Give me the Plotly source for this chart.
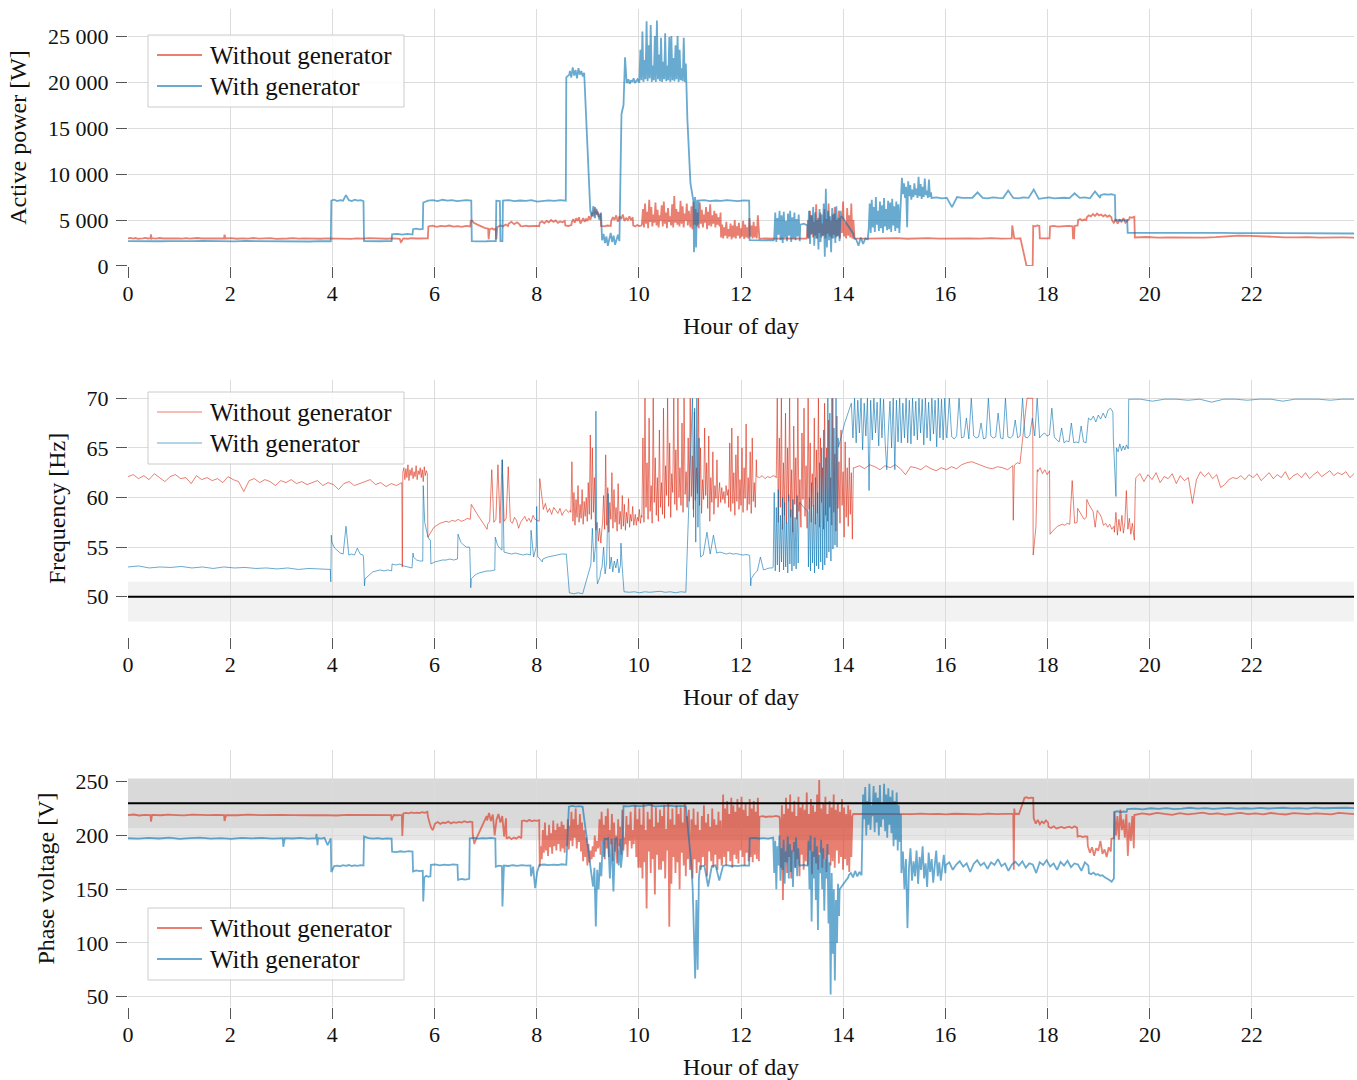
import plotly.graph_objects as go

# ---------------------------------------------------------------------------
# Measured series. Each series is a list of runs (start_hour, end_hour, values);
# the values of a run are placed at evenly spaced times between its two hours.
# ---------------------------------------------------------------------------

power_without = [
    (0.00, 0.44, [3000, 3060, 2980, 3040, 2960, 3020, 3000, 3050, 2990, 3030]),
    (0.45, 0.46, [3450, 2980]),
    (0.47, 1.88, [3020, 2970, 3040, 2990, 3010, 2960, 3050, 3000, 2980, 3030, 2970, 3010, 3040, 2990, 3000, 2960, 3020, 3050, 2980, 3000]),
    (1.89, 1.90, [3400, 3000]),
    (1.91, 4.00, [2990, 3030, 2960, 3010, 2980, 3040, 2970, 3000, 3020, 2950, 3010, 2990, 3030, 2970, 3000, 2980, 3020, 2960, 3010, 2990]),
    (4.01, 5.30, [2980, 3030, 2990, 2950, 3010, 2970, 3020, 2990, 3000, 2960, 3010, 2980]),
    (5.32, 5.38, [2950, 2600, 2700, 2950]),
    (5.40, 5.87, [3000, 2960, 3020, 2990, 3010, 2970, 3000]),
    (5.88, 6.70, [4300, 4380, 4250, 4350, 4300, 4400, 4280, 4330, 4260, 4350, 4300]),
    (6.71, 6.76, [4900, 4950, 4800]),
    (6.77, 7.05, [4700, 4500, 4300, 4150, 4050]),
    (7.06, 7.08, [2900, 4000]),
    (7.09, 7.20, [4000, 4100, 3950, 4050]),
    (7.21, 7.23, [2900, 4300]),
    (7.24, 7.44, [4250, 4400, 4300, 4500, 4350]),
    (7.45, 7.67, [4600, 4800, 4550, 4750, 4500]),
    (7.68, 8.05, [4350, 4300, 4380, 4320, 4350, 4300, 4370, 4330]),
    (8.06, 8.55, [4700, 4850, 4650, 4900, 4750, 5000, 4800, 4950, 4700, 4850, 4750, 4900]),
    (8.56, 8.68, [4400, 4350, 4450]),
    (8.69, 9.05, [4800, 5100, 4700, 5200, 4900, 5300, 4600, 5000, 5200, 4800, 5100, 4900, 5400, 5000]),
    (9.06, 9.25, [5200, 5800, 5400, 6400, 5600, 5900, 5300, 5700]),
    (9.26, 9.45, [4350, 4300, 4400, 4350]),
    (9.46, 9.88, [4900, 5300, 5000, 5500, 4800, 5400, 5100, 5600, 4900, 5200, 5000, 5400, 4950, 5300]),
    (9.89, 10.05, [4400, 4300, 4450, 4350, 4400]),
    (10.06, 11.00, [4500, 6200, 4200, 6800, 4600, 5900, 4100, 7200, 4800, 6400, 4300, 5600, 4700, 6900, 4400, 6100,
                    4200, 5500, 4900, 6600, 4300, 7000, 4600, 5800, 4100, 6300, 4800, 5400, 4400, 6700, 4200, 7600,
                    4700, 6200, 4500, 5900, 4300, 7100, 4600, 6500, 4200, 5700, 4900, 6800, 4400, 6000, 4500]),
    (11.01, 11.60, [4200, 6500, 4000, 7000, 4500, 6200, 4300, 5800, 4100, 6900, 4600, 6100, 4200, 5600, 4700, 6400,
                    4000, 5900, 4400, 6700, 4300, 5500, 4600, 6000, 4200, 5700, 4500, 5300, 4300, 5800]),
    (11.61, 12.35, [3100, 4500, 3000, 4200, 3300, 4800, 3000, 4000, 3200, 4600, 2900, 4400, 3100, 5000, 3000, 4300,
                    3300, 4700, 3000, 4100, 3200, 4900, 2950, 4500, 3100, 4200, 3000, 5200, 3200, 4400, 3000, 4800,
                    3100, 4300, 3000, 5500, 3200]),
    (12.36, 13.28, [2950, 3000, 2980, 3020, 2970, 3000, 2990, 3010, 2960, 3000, 2980]),
    (13.29, 14.22, [3200, 5000, 3000, 6000, 3400, 5500, 3100, 4800, 3300, 6700, 3000, 5200, 3600, 5800, 3100, 4600,
                    3300, 6200, 3000, 5100, 3500, 6800, 3200, 4900, 3000, 5600, 3400, 6400, 3100, 5000, 3300, 6000,
                    3000, 5400, 3600, 7000, 3200, 4700, 3000, 6300, 3300, 5500, 3100, 6800, 3000, 5000, 3200]),
    (14.23, 17.30, [3000, 2970, 3010, 2990, 3020, 2960, 3000, 3030, 2980, 3000, 2990, 3010, 2970, 3020, 2980, 3000]),
    (17.31, 17.34, [4400, 3000]),
    (17.35, 17.47, [3000, 2980, 3010]),
    (17.59, 17.71, [0, 20, 0, 0]),
    (17.72, 17.84, [4350, 4300, 4400, 4350]),
    (17.85, 18.04, [3000, 2980, 3020, 3000]),
    (18.05, 18.49, [4300, 4350, 4280, 4330, 4300, 4360, 4310]),
    (18.50, 18.52, [3000, 3000]),
    (18.53, 18.59, [4350, 4400]),
    (18.60, 18.76, [5000, 5100, 4950, 5050, 5000]),
    (18.77, 19.25, [5300, 5500, 5400, 5650, 5450, 5700, 5500, 5600, 5400, 5550, 5350, 5500, 5300]),
    (19.26, 19.60, [5000, 4700, 5100, 4600, 5000, 4800, 5200, 4700, 4900, 5100]),
    (19.61, 19.70, [5300, 5250, 5350]),
    (19.71, 24.00, [3100, 3150, 3080, 3120, 3100, 3160, 3090, 3130, 3250, 3300, 3280, 3200, 3150, 3120, 3100, 3140,
                    3090, 3120, 3100, 3080]),
]

power_with = [
    (0.00, 3.97, [2700, 2680, 2720, 2690, 2710, 2670, 2700, 2730, 2690, 2700, 2680, 2720, 2700, 2690, 2710, 2680,
                  2700, 2660, 2700, 2690]),
    (3.98, 4.61, [7100, 7200, 7050, 7150, 7100, 7700, 7150, 7050, 7200, 7100, 7150, 7050]),
    (4.62, 5.16, [2700, 2680, 2720, 2690, 2700, 2710]),
    (5.17, 5.57, [3450, 3500, 3400, 3480, 3420]),
    (5.58, 5.77, [4000, 4050, 3980, 4020]),
    (5.78, 6.72, [6900, 7100, 7150, 7050, 7200, 7100, 7150, 7050, 7100, 7150, 7100]),
    (6.73, 7.20, [2700, 2680, 2720, 2690, 2710, 2700]),
    (7.21, 7.28, [7100, 7050]),
    (7.29, 7.33, [2700, 2700]),
    (7.34, 8.57, [7100, 7150, 7050, 7120, 7080, 7150, 7000, 7100, 7130, 7070, 7150, 7100]),
    (8.58, 8.64, [20500, 20800]),
    (8.65, 8.93, [21200, 20500, 21600, 20700, 21300, 20400, 21500, 20800, 21200, 20600, 21000]),
    (9.05, 9.26, [6000, 5400, 6500, 5200, 6200, 5600, 5000, 5800]),
    (9.28, 9.62, [2800, 3500, 2500, 3200, 2200, 2900, 3600, 2600, 3300, 2300, 2800, 3400, 2700]),
    (9.66, 9.70, [16500, 17500]),
    (9.73, 9.76, [22700, 20000]),
    (9.77, 10.00, [19900, 20300, 19800, 20200, 20000, 20400, 19900, 20100, 20300, 20000]),
    (10.01, 10.92, [20000, 23500, 20200, 25500, 20000, 22400, 20300, 26600, 20100, 24000, 20400, 26200, 20000, 21800,
                    20200, 25000, 20000, 26700, 20300, 23000, 20100, 24800, 20000, 22200, 20300, 25300, 20100, 21800,
                    20200, 24900, 20000, 25000, 20200, 22600, 20100, 24000, 20300, 25000, 20000, 23500, 20200, 21500,
                    20100, 24800, 20000, 22000]),
    (10.95, 11.07, [16000, 9000, 7000]),
    (11.08, 11.16, [1500, 7500, 2000, 7200, 4500]),
    (11.17, 12.16, [7100, 7150, 7050, 7120, 7080, 7150, 7100, 7050, 7130, 7100]),
    (12.17, 12.64, [2800, 2780, 2820, 2790, 2810, 2800]),
    (12.65, 13.15, [3000, 5800, 2600, 5200, 3400, 6000, 2800, 5500, 2500, 5900, 3100, 4900, 2700, 5700, 3300, 6000,
                    2600, 5300, 3000, 5800, 2800, 5100, 3200, 5600, 2700]),
    (13.16, 13.30, [4500, 4600, 4400]),
    (13.31, 13.95, [3000, 6000, 2400, 5500, 3500, 6400, 2200, 5800, 3000, 5000, 1800, 6200, 2600, 5600, 3300, 6800,
                    1000, 8400, 2000, 6000, 2800, 5400, 1500, 6300, 3000, 5700, 2500, 6500, 3200, 5200, 2700, 6000]),
    (13.96, 14.20, [5500, 4500, 3500]),
    (14.21, 14.48, [3000, 2900, 2200, 3100, 2400, 3000, 2900]),
    (14.50, 15.12, [4000, 6800, 3600, 7200, 4200, 6400, 3700, 7500, 4500, 6000, 3800, 7000, 4100, 6600, 3600, 7400,
                    4300, 6200, 3900, 7100, 4000, 6900, 3700, 7300, 4400, 6500, 3800, 7000, 4100, 6700, 3600, 6000]),
    (15.13, 15.72, [7500, 9600, 7800, 9000, 7400, 8600, 4200, 9200, 7600, 8800, 7200, 8300, 7500, 9000, 7700, 8400,
                    7400, 9700, 7600, 8900, 7300, 8600, 7500, 9500, 7700, 8200, 7400, 9400, 7500, 8000]),
    (15.73, 19.03, [7400, 7450, 7350, 7400, 6400, 7500, 7400, 7380, 7420, 8000, 7400, 7350, 7450, 7400, 7380, 8200,
                    7400, 7350, 7450, 7400, 8300, 7300, 7400, 7450, 7350, 7400, 7420, 7380, 7900, 7400, 7450, 7350,
                    8100, 7400]),
    (19.04, 19.32, [7700, 7800, 7750, 7800, 7700]),
    (19.33, 19.56, [4950, 5000, 4950, 5000]),
    (19.57, 24.00, [3600, 3620, 3580, 3610, 3600, 3590, 3620, 3600, 3610, 3580, 3600, 3590, 3570, 3580, 3560, 3550,
                    3560, 3540, 3550, 3530]),
]

freq_without = [
    (0.00, 5.36, [62.1, 62.3, 61.9, 62.2, 61.8, 62.4, 62.0, 61.6, 62.1, 62.3, 61.9, 62.0, 61.4, 62.2, 61.8, 62.0,
                  61.7, 61.9, 61.5, 62.1, 61.8, 61.6, 60.6, 61.7, 61.9, 61.5, 61.8, 61.6, 61.2, 61.7, 61.5, 61.8,
                  61.4, 61.6, 61.3, 61.5, 61.7, 61.2, 61.5, 61.3, 60.8, 61.4, 61.6, 61.2, 61.4, 61.6, 61.8, 61.3,
                  61.5, 61.1, 61.4, 61.2, 61.5]),
    (5.37, 5.375, [53.0, 62.5]),
    (5.38, 5.86, [62.5, 63.0, 61.8, 62.9, 62.0, 63.3, 61.7, 62.8, 62.2, 63.0, 61.9, 62.6, 62.1, 63.2, 61.8, 62.7,
                  62.3, 63.0, 62.0, 62.8, 61.6, 63.1, 62.2, 62.7, 62.4]),
    (5.87, 6.70, [56.0, 56.5, 57.0, 57.2, 57.4, 57.5, 57.6, 57.5, 57.7, 57.6, 57.8, 57.6, 57.7, 57.9, 57.8]),
    (6.72, 7.03, [59.3, 58.6, 58.0, 57.4, 56.8]),
    (7.04, 8.05, [57.3, 57.6, 62.8, 57.5, 57.8, 63.3, 57.4, 63.8, 57.6, 57.9, 63.1, 57.6, 57.4, 58.0, 57.7, 56.9,
                  57.5, 57.8, 58.1, 57.6, 57.9, 57.5, 58.2, 57.8, 57.7, 57.6]),
    (8.06, 8.12, [61.9, 60.2, 59.3]),
    (8.13, 8.66, [58.8, 59.4, 58.5, 58.9, 58.3, 59.0, 58.7, 58.4, 58.9, 58.2, 58.6, 58.8, 58.5, 58.7]),
    (8.67, 9.15, [58.5, 63.6, 57.6, 60.5, 57.2, 59.8, 58.0, 61.2, 57.5, 59.3, 57.9, 60.8, 57.3, 59.6, 58.1, 60.0,
                  57.6, 61.5, 58.3, 66.3, 57.8, 65.0, 58.5, 62.0, 57.2]),
    (9.16, 9.28, [56.7, 57.5, 55.6, 56.9, 55.4, 57.0]),
    (9.29, 9.90, [57.4, 60.2, 56.8, 64.3, 57.2, 61.0, 56.5, 59.5, 57.8, 62.5, 56.9, 60.8, 57.5, 59.0, 56.6, 61.4,
                  57.3, 58.6, 56.8, 60.2, 57.1, 59.3, 56.7, 58.5, 57.4, 59.9, 57.0, 58.3, 57.6, 59.1, 57.2]),
    (9.91, 10.05, [57.5, 58.3, 57.2, 58.0, 57.6, 58.8, 57.4, 58.2]),
    (10.06, 11.55, [58.0, 66.0, 57.5, 70.0, 59.0, 63.5, 57.8, 68.0, 58.6, 61.2, 57.4, 70.0, 59.5, 64.0, 58.2, 62.0,
                    57.6, 66.8, 59.0, 61.5, 58.3, 69.0, 57.9, 63.2, 60.2, 70.0, 59.1, 65.5, 58.0, 62.4, 60.5, 70.0,
                    59.3, 64.8, 58.7, 70.0, 60.0, 63.0, 59.2, 67.5, 58.5, 70.0, 60.3, 62.6, 59.0, 66.0, 59.6, 70.0,
                    60.1, 64.2, 58.8, 68.6, 59.7, 63.0, 60.4, 70.0, 59.2, 65.0, 58.4, 61.8, 59.8, 67.0, 60.2, 63.5,
                    58.9, 66.2, 57.6, 62.0, 59.5, 64.6, 58.3, 61.2, 59.9, 63.8, 59.0]),
    (11.56, 11.75, [60.0, 61.5, 59.5, 61.0, 59.8, 60.6, 59.4, 61.2, 60.2, 60.8]),
    (11.76, 12.30, [59.0, 65.5, 58.6, 67.0, 59.4, 62.5, 58.2, 64.3, 59.6, 66.2, 58.8, 61.8, 59.2, 65.0, 58.5, 63.0,
                    59.9, 67.4, 58.7, 62.0, 59.3, 64.6, 58.4, 66.0, 59.6, 61.5, 59.0, 63.8]),
    (12.31, 12.68, [62.1, 62.0, 62.2, 61.9, 62.1, 62.0, 62.2, 62.1]),
    (12.69, 14.20, [62.0, 70.0, 57.5, 66.0, 59.0, 70.0, 56.8, 63.5, 58.2, 68.5, 57.4, 65.0, 59.6, 70.0, 58.0, 62.8,
                    56.5, 67.2, 59.3, 64.0, 57.8, 70.0, 58.6, 61.8, 57.0, 66.5, 59.8, 69.0, 58.1, 63.2, 56.9, 70.0,
                    58.8, 65.5, 57.5, 62.4, 59.1, 68.0, 57.3, 64.8, 58.4, 70.0, 57.0, 66.0, 59.5, 63.0, 56.8, 69.5,
                    58.2, 65.0, 57.6, 67.8, 59.0, 62.0, 57.2, 70.0, 58.5, 64.4, 56.6, 68.2, 58.9, 63.6, 57.4, 66.8,
                    59.2, 62.6, 56.0, 65.6, 58.0, 63.0, 57.1, 64.0, 58.3, 62.5, 55.8, 63.0]),
    (14.22, 17.32, [63.0, 63.2, 62.9, 63.3, 63.1, 62.8, 63.2, 63.0, 63.3, 62.9, 62.3, 63.1, 63.0, 62.8, 63.2, 62.9,
                    62.7, 63.0, 62.8, 63.1, 62.9, 63.3, 63.5, 63.6, 63.4, 63.2, 63.0, 62.9, 63.1, 63.0, 62.8, 63.2]),
    (17.33, 17.35, [57.7, 63.2]),
    (17.36, 17.46, [63.3, 63.5, 63.4]),
    (17.60, 17.71, [70.0, 70.0]),
    (17.72, 17.80, [54.2, 55.5, 57.0, 62.8]),
    (17.81, 18.04, [62.6, 63.0, 62.4, 62.8, 62.3, 62.7]),
    (18.05, 18.58, [56.3, 56.6, 56.9, 57.1, 57.2, 57.3, 57.2, 57.4, 57.3, 61.7, 57.4, 57.5]),
    (18.59, 18.76, [58.9, 58.5, 58.2, 57.8, 58.0]),
    (18.77, 19.30, [59.8, 59.3, 58.9, 58.6, 57.0, 58.7, 58.4, 58.0, 57.2, 57.4, 57.0, 57.3, 56.8, 57.1]),
    (19.31, 19.69, [56.5, 58.5, 56.2, 57.8, 56.6, 58.2, 56.4, 57.5, 60.7, 56.8, 57.9, 56.3, 57.4, 56.0]),
    (19.70, 19.72, [55.7, 61.3]),
    (19.73, 24.00, [62.0, 62.4, 61.6, 62.3, 61.8, 62.5, 61.5, 62.1, 61.9, 62.4, 61.4, 62.2, 61.7, 62.0, 59.4, 61.8,
                    62.6, 62.1, 62.5, 61.9, 62.3, 61.0, 61.3, 61.8, 62.0, 61.9, 62.2, 61.8, 62.3, 62.0, 62.4, 61.7,
                    62.1, 62.5, 61.9, 62.3, 62.0, 62.6, 61.8, 62.2, 62.4, 62.0, 62.5, 61.9, 62.3, 62.6, 62.1, 62.4,
                    62.7, 62.2, 62.5, 62.3, 62.6, 62.0, 62.4]),
]

freq_with = [
    (0.00, 3.96, [53.0, 53.1, 52.9, 53.0, 52.95, 53.05, 52.9, 53.0, 52.85, 53.0, 52.9, 52.95, 52.85, 52.9, 52.8,
                  52.9, 52.75, 52.85, 52.8, 52.75]),
    (3.97, 3.98, [51.5, 56.2]),
    (3.99, 4.60, [55.5, 54.9, 54.6, 54.4, 54.3, 57.1, 54.2, 54.3, 54.2, 54.9, 54.3, 54.2]),
    (4.61, 4.63, [54.0, 51.1]),
    (4.64, 5.16, [51.8, 52.2, 52.5, 52.6, 52.7, 52.6, 52.7, 52.6]),
    (5.17, 5.55, [53.3, 53.2, 53.3, 53.1, 53.0, 52.9]),
    (5.56, 5.58, [52.9, 54.4]),
    (5.59, 5.77, [54.0, 53.7, 53.6, 53.6]),
    (5.78, 5.92, [61.2, 57.5, 56.7, 56.2, 55.8, 55.7]),
    (5.93, 6.45, [53.3, 53.5, 53.6, 53.7, 53.7, 53.8, 53.7, 53.8]),
    (6.46, 6.68, [56.3, 55.5, 55.2, 55.0, 55.0]),
    (6.69, 6.71, [54.8, 50.9]),
    (6.72, 7.18, [51.8, 52.2, 52.4, 52.5, 52.6, 52.6, 52.7]),
    (7.19, 7.32, [56.0, 55.2, 54.9, 54.7]),
    (7.33, 7.35, [63.8, 54.6]),
    (7.36, 7.88, [54.5, 54.4, 54.3, 54.4, 54.3, 54.2, 54.3, 54.2]),
    (7.89, 7.99, [56.7, 54.0, 55.0]),
    (8.00, 8.02, [59.1, 54.0]),
    (8.03, 8.11, [54.0, 53.5]),
    (8.12, 8.58, [53.8, 54.0, 54.1, 54.2, 54.3, 54.3]),
    (8.64, 8.90, [50.4, 50.3, 50.4, 50.3]),
    (9.06, 9.15, [53.2, 56.9, 53.5, 55.0]),
    (9.16, 9.18, [68.7, 52.0]),
    (9.19, 9.24, [51.3, 52.0]),
    (9.25, 9.64, [52.5, 53.0, 55.0, 52.3, 53.5, 60.4, 52.8, 54.0, 52.5, 53.6, 52.9, 53.8, 52.4, 53.2]),
    (9.65, 9.70, [55.4, 53.0, 50.5]),
    (9.71, 10.92, [50.5, 50.45, 50.5, 50.4, 50.5, 50.45, 50.5, 50.55, 50.45, 50.5, 50.4, 50.5, 50.45]),
    (11.05, 11.20, [70.0, 58.0, 69.0, 55.5, 70.0, 57.0, 66.0, 55.0]),
    (11.21, 11.26, [54.0, 54.2]),
    (11.27, 12.16, [54.5, 56.5, 54.3, 56.2, 54.4, 54.5, 54.4, 54.3, 54.4, 54.3, 54.35, 54.3, 54.2, 54.25, 54.2]),
    (12.17, 12.19, [54.1, 51.1]),
    (12.20, 12.62, [51.8, 52.3, 52.6, 54.0, 52.7, 52.8, 52.9, 52.9]),
    (12.63, 13.14, [53.0, 60.5, 52.6, 59.0, 53.2, 60.8, 52.5, 58.2, 53.5, 60.0, 52.7, 59.5, 53.0, 57.5, 52.4, 60.3,
                    53.3, 58.8, 52.6, 59.8, 53.1, 58.0, 52.8, 60.2, 53.4, 59.2]),
    (13.15, 13.31, [59.5, 59.0, 58.6]),
    (13.32, 13.90, [53.0, 60.0, 52.6, 61.5, 53.4, 59.2, 52.4, 62.0, 53.1, 60.5, 52.8, 63.5, 53.5, 65.0, 52.7, 66.8,
                    53.2, 64.0, 53.9, 70.0, 54.5, 68.5, 53.6, 70.0, 54.8, 67.0, 55.2, 70.0, 55.0, 66.0]),
    (13.91, 14.15, [65.1, 67.5, 69.5]),
    (14.16, 16.02, [69.5, 66.0, 70.0, 65.5, 69.8, 66.5, 70.0, 64.8, 69.5, 66.2, 70.0, 60.7, 69.8, 65.8, 70.0, 66.5,
                    69.6, 65.2, 70.0, 66.0, 69.9, 65.5, 62.8, 66.8, 69.7, 65.0, 70.0, 62.8, 69.8, 65.6, 70.0, 65.5,
                    69.5, 66.0, 70.0, 65.5, 69.8, 65.4, 70.0, 66.2, 69.7, 65.8, 70.0, 66.5, 69.9, 65.3, 70.0, 66.0,
                    69.6, 65.7, 70.0, 66.4, 69.8, 65.1, 70.0, 66.0, 69.9, 65.8, 70.0, 66.2]),
    (16.03, 19.28, [66.0, 70.0, 66.1, 65.9, 66.2, 70.0, 66.0, 66.1, 68.0, 65.9, 70.0, 66.2, 66.0, 66.1, 67.5, 65.9,
                    66.0, 70.0, 66.2, 66.0, 66.1, 68.5, 66.0, 65.9, 70.0, 66.1, 66.0, 66.2, 67.8, 66.0, 66.2, 70.0,
                    66.1, 66.0, 66.3, 68.0, 66.2, 70.0, 66.0, 66.3, 66.5, 66.2, 66.3, 69.0, 66.1, 65.8, 65.6, 67.0,
                    65.5, 65.7, 65.6, 67.5, 65.5, 65.6, 65.5, 67.2, 65.6, 65.5, 68.0, 67.8, 68.2, 67.6, 68.3, 67.9,
                    68.5, 68.0, 68.8, 69.0, 68.6]),
    (19.29, 19.34, [65.8, 60.1]),
    (19.35, 19.58, [65.0, 64.6, 65.4, 64.7, 65.2, 64.8, 65.3, 64.9]),
    (19.59, 24.00, [69.9, 69.9, 69.7, 69.9, 69.9, 69.8, 69.9, 69.6, 69.9, 69.9, 69.8, 69.9, 69.9, 69.7, 69.9, 69.9,
                    69.9, 69.8, 69.9, 69.9]),
]

volt_without = [
    (0.00, 0.44, [219.0, 219.5, 218.6, 219.2, 219.0]),
    (0.45, 0.47, [213.0, 219.0]),
    (0.48, 1.88, [219.2, 218.8, 219.4, 219.0, 218.7, 219.3, 219.0, 218.9, 219.2, 219.0]),
    (1.89, 1.91, [213.5, 219.0]),
    (1.92, 5.15, [219.0, 218.8, 219.3, 219.0, 218.7, 219.1, 218.9, 219.2, 218.8, 219.0, 218.6, 219.1, 218.9, 219.0,
                  218.7, 218.9]),
    (5.16, 5.19, [214.0, 219.0]),
    (5.20, 5.36, [219.0, 218.8, 219.1]),
    (5.37, 5.38, [199.5, 219.0]),
    (5.39, 5.86, [220.5, 221.0, 220.6, 221.4, 220.8, 221.2, 220.9, 221.6, 221.0, 222.0]),
    (5.87, 6.00, [218.0, 212.0, 207.0, 205.0, 210.0]),
    (6.01, 6.74, [211.0, 212.5, 210.8, 212.0, 211.5, 213.0, 211.2, 212.4, 211.8, 212.6, 212.0, 213.2, 212.2, 212.8,
                  212.5]),
    (6.75, 6.78, [200.0, 192.0]),
    (6.79, 7.02, [194.0, 200.0, 206.0, 212.0, 218.0]),
    (7.03, 7.40, [214.0, 221.0, 213.5, 219.5, 200.0, 215.0, 220.0, 212.0, 218.0, 199.0, 216.0]),
    (7.41, 7.70, [197.0, 198.5, 196.5, 198.0, 197.0, 199.0, 197.5]),
    (7.71, 8.05, [213.5, 214.0, 213.0, 214.5, 213.2, 214.0, 213.6, 214.2]),
    (8.06, 8.65, [171.0, 190.0, 178.0, 205.0, 184.0, 212.0, 186.0, 200.0, 181.0, 210.0, 189.0, 202.0, 183.0, 214.0,
                  190.0, 205.0, 186.0, 211.0, 192.0, 208.0, 185.0, 213.0, 188.0, 210.0, 184.0, 206.0, 190.0, 215.0,
                  187.0, 209.0]),
    (8.66, 9.20, [195.0, 222.0, 190.0, 215.0, 198.0, 225.0, 188.0, 210.0, 194.0, 220.0, 185.0, 212.0, 176.0, 205.0,
                  180.0, 198.0, 172.0, 192.0, 175.0, 186.0, 178.0, 190.0, 180.0, 200.0, 185.0, 195.0, 188.0]),
    (9.21, 9.90, [190.0, 215.0, 182.0, 222.0, 195.0, 210.0, 178.0, 218.0, 188.0, 225.0, 180.0, 205.0, 192.0, 220.0,
                  176.0, 212.0, 185.0, 200.0, 174.0, 215.0, 190.0, 208.0, 182.0, 224.0, 186.0, 198.0, 192.0, 218.0,
                  180.0, 210.0, 195.0, 222.0, 188.0, 205.0, 192.0]),
    (9.91, 11.00, [200.0, 228.0, 180.0, 215.0, 170.0, 225.0, 170.0, 210.0, 160.0, 230.0, 175.0, 205.0, 132.0, 222.0,
                   185.0, 215.0, 165.0, 230.0, 178.0, 208.0, 145.0, 226.0, 182.0, 212.0, 168.0, 224.0, 168.0, 218.0,
                   176.0, 228.0, 160.0, 206.0, 186.0, 230.0, 115.0, 215.0, 155.0, 225.0, 180.0, 210.0, 165.0, 228.0,
                   175.0, 220.0, 150.0, 226.0, 184.0, 212.0, 172.0, 230.0, 162.0, 218.0, 178.0, 224.0, 168.0]),
    (11.01, 11.62, [170.0, 215.0, 160.0, 225.0, 178.0, 210.0, 165.0, 222.0, 175.0, 205.0, 168.0, 218.0, 180.0, 228.0,
                    172.0, 212.0, 162.0, 220.0, 185.0, 208.0, 176.0, 225.0, 170.0, 215.0, 182.0, 210.0, 168.0, 222.0,
                    178.0, 214.0, 172.0]),
    (11.63, 12.35, [175.0, 238.0, 180.0, 225.0, 172.0, 232.0, 185.0, 220.0, 176.0, 235.0, 170.0, 228.0, 182.0, 222.0,
                    178.0, 234.0, 174.0, 226.0, 186.0, 236.0, 180.0, 224.0, 172.0, 230.0, 184.0, 218.0, 176.0, 234.0,
                    180.0, 225.0, 175.0, 232.0, 182.0, 222.0, 178.0, 235.0, 176.0]),
    (12.36, 12.75, [217.5, 218.0, 217.2, 217.8, 217.5, 218.2, 217.4]),
    (12.76, 14.20, [215.0, 170.0, 228.0, 140.0, 220.0, 175.0, 235.0, 165.0, 225.0, 180.0, 238.0, 160.0, 222.0, 185.0,
                    232.0, 170.0, 218.0, 178.0, 236.0, 162.0, 226.0, 182.0, 230.0, 168.0, 224.0, 176.0, 240.0, 172.0,
                    220.0, 186.0, 234.0, 164.0, 228.0, 180.0, 222.0, 174.0, 238.0, 168.0, 251.5, 184.0, 225.0, 170.0,
                    230.0, 178.0, 236.0, 166.0, 220.0, 182.0, 232.0, 172.0, 226.0, 176.0, 238.0, 170.0, 224.0, 186.0,
                    230.0, 174.0, 222.0, 180.0, 234.0, 168.0, 226.0, 178.0, 220.0, 172.0, 228.0, 166.0, 224.0, 180.0,
                    218.0, 220.0]),
    (14.21, 17.33, [220.0, 219.6, 220.3, 219.8, 220.1, 219.7, 220.2, 219.9, 220.4, 219.8, 220.0, 219.6, 220.2, 219.9,
                    220.1, 219.7, 220.3, 219.8, 220.0, 220.2]),
    (17.34, 17.35, [168.0, 225.0]),
    (17.36, 17.44, [220.0, 220.2, 219.8]),
    (17.55, 17.72, [235.0, 235.5, 234.5, 235.2, 235.0]),
    (17.73, 18.01, [216.0, 211.0, 214.5, 210.5, 213.0, 211.5, 214.0, 212.0]),
    (18.02, 18.58, [208.0, 207.0, 208.5, 206.5, 207.5, 208.0, 206.8, 207.6, 208.2, 207.0, 208.5, 207.2]),
    (18.59, 18.78, [199.0, 199.5, 198.5, 199.2, 199.0]),
    (18.79, 19.24, [190.0, 184.0, 189.0, 181.0, 188.0, 186.0, 195.0, 183.0, 187.0, 180.0, 189.0, 185.0]),
    (19.25, 19.30, [197.0, 197.5]),
    (19.31, 19.69, [222.0, 200.0, 218.0, 196.0, 224.0, 205.0, 215.0, 198.0, 220.0, 181.0, 212.0, 195.0, 218.0, 188.0]),
    (19.70, 24.00, [219.0, 220.5, 219.5, 221.0, 220.0, 219.2, 220.8, 219.6, 220.4, 221.2, 219.8, 220.6, 219.4, 220.2,
                    221.0, 219.9, 220.5, 219.7, 220.9, 220.1, 219.5, 220.7, 220.0, 219.8, 220.6, 220.3, 219.6, 221.0,
                    220.2, 219.9]),
]

volt_with = [
    (0.00, 3.03, [197.4, 197.0, 197.8, 197.2, 198.0, 196.8, 197.5, 197.9, 197.1, 197.6, 196.9, 197.7, 197.3, 197.8,
                  197.0, 197.5]),
    (3.04, 3.06, [189.5, 197.0]),
    (3.07, 3.68, [197.5, 197.2, 197.8, 197.0, 197.6]),
    (3.69, 3.71, [201.5, 191.0]),
    (3.72, 3.97, [197.5, 197.0, 197.8, 191.0, 197.2]),
    (3.98, 4.61, [166.0, 171.5, 172.0, 171.2, 172.3, 171.8, 172.5, 171.6, 172.1, 171.7, 172.4, 172.0]),
    (4.62, 5.16, [199.0, 197.5, 197.0, 197.6, 196.9, 197.3, 197.0]),
    (5.17, 5.57, [185.0, 184.5, 185.3, 184.8, 185.5, 185.0]),
    (5.58, 5.77, [166.5, 167.5, 166.8, 167.2]),
    (5.78, 5.79, [138.5, 160.0]),
    (5.80, 5.92, [161.0, 162.5, 161.5, 162.0]),
    (5.93, 6.45, [172.6, 173.0, 172.2, 172.8, 172.4, 173.1, 172.6]),
    (6.46, 6.68, [158.7, 159.5, 158.9, 159.6]),
    (6.69, 7.19, [197.4, 197.8, 197.1, 197.6, 197.3, 197.7, 197.2]),
    (7.20, 7.32, [171.0, 172.0, 171.5]),
    (7.33, 7.35, [134.0, 171.5]),
    (7.36, 7.88, [172.0, 171.6, 172.3, 171.8, 172.4, 171.9, 172.2]),
    (7.89, 8.05, [162.0, 171.0, 151.0, 166.0, 172.0]),
    (8.06, 8.58, [172.6, 173.0, 172.4, 172.8, 172.5, 173.2, 172.7]),
    (8.63, 8.90, [226.8, 227.5, 226.9, 227.3, 226.7]),
    (9.05, 9.32, [172.0, 160.0, 152.5, 170.0, 115.3, 168.0, 150.0, 175.0, 162.0, 195.0, 180.0]),
    (9.33, 9.64, [197.0, 196.5, 197.5, 160.0, 197.0, 148.0, 196.8, 197.4, 172.0, 197.0]),
    (9.65, 9.68, [170.0, 185.0]),
    (9.70, 10.92, [227.4, 227.0, 227.8, 227.2, 227.6, 228.5, 227.1, 227.5, 227.3, 227.8, 227.0, 227.6, 227.2]),
    (11.03, 11.20, [172.0, 150.0, 110.0, 67.0, 140.0, 75.0, 160.0, 172.0]),
    (11.21, 12.16, [171.0, 172.0, 152.5, 171.5, 172.2, 158.0, 171.8, 172.4, 171.6, 172.0, 171.4, 172.2, 171.8, 172.0]),
    (12.17, 12.62, [197.4, 197.8, 197.2, 197.6, 197.0, 197.5]),
    (12.63, 13.14, [198.0, 165.0, 195.0, 150.0, 190.0, 172.0, 200.0, 158.0, 188.0, 168.0, 196.0, 155.0, 185.0, 175.0,
                    199.0, 160.0, 192.0, 166.0, 186.0, 152.0, 194.0, 170.0, 198.0, 162.0, 188.0, 174.0]),
    (13.15, 13.31, [172.0, 172.5, 171.8]),
    (13.32, 13.92, [195.0, 150.0, 200.0, 120.0, 185.0, 160.0, 198.0, 140.0, 190.0, 112.0, 182.0, 165.0, 196.0, 150.0,
                    188.0, 130.0, 178.0, 160.0, 192.0, 118.0, 175.0, 52.0, 165.0, 90.0, 150.0, 65.0, 140.0, 100.0,
                    155.0, 125.0]),
    (13.93, 14.10, [150.0, 156.0, 161.0]),
    (14.11, 14.36, [163.0, 165.0, 161.0, 167.0, 162.0, 166.0, 163.0]),
    (14.37, 15.13, [205.0, 238.0, 215.0, 245.0, 200.0, 232.0, 210.0, 248.0, 205.0, 228.0, 218.0, 246.0, 203.0, 240.0,
                    212.0, 235.0, 200.0, 247.0, 208.0, 230.0, 215.0, 248.0, 204.0, 238.0, 198.0, 244.0, 210.0, 236.0,
                    202.0, 242.0, 190.0, 232.0, 196.0, 240.0, 186.0, 228.0, 194.0, 220.0]),
    (15.14, 16.00, [165.0, 185.0, 150.0, 178.0, 113.8, 170.0, 188.0, 158.0, 176.0, 162.0, 186.0, 155.0, 180.0, 168.0,
                    190.0, 160.0, 174.0, 152.0, 184.0, 166.0, 178.0, 156.0, 172.0, 186.0, 162.0, 175.0, 158.0, 170.0,
                    182.0, 165.0]),
    (16.01, 18.80, [172.6, 175.0, 168.0, 173.0, 176.0, 171.0, 174.0, 166.0, 173.5, 177.0, 172.0, 174.5, 169.0, 175.0,
                    172.5, 178.0, 171.5, 174.0, 167.0, 173.0, 175.5, 172.0, 176.0, 170.0, 174.0, 173.0, 165.0, 175.0,
                    172.5, 177.0, 171.0, 174.0, 168.0, 175.5, 172.0, 176.5, 170.5, 174.0, 173.0, 167.0, 175.0, 172.0]),
    (18.81, 19.30, [165.0, 164.0, 165.5, 163.5, 164.0, 162.5, 163.0, 161.0, 160.0, 158.5, 157.0, 160.0]),
    (19.31, 19.55, [222.0, 222.5, 221.8, 222.3, 222.0]),
    (19.56, 24.00, [224.6, 225.0, 224.2, 225.3, 224.8, 225.5, 224.6, 225.0, 225.8, 224.9, 225.4, 224.7, 225.2, 225.6,
                    224.9, 225.3, 225.0, 225.7, 225.1, 225.4, 225.8, 225.2, 225.5, 225.0, 225.9, 225.3, 225.6, 225.2,
                    225.8, 225.5]),
]

hour_ticks = [0, 2, 4, 6, 8, 10, 12, 14, 16, 18, 20, 22]
power_ticks = [0, 5000, 10000, 15000, 20000, 25000]
power_tick_labels = ["0", "5 000", "10 000", "15 000", "20 000", "25 000"]
freq_ticks = [50, 55, 60, 65, 70]
volt_ticks = [50, 100, 150, 200, 250]

series_names = ["Without generator", "With generator"]

freq_nominal = 50
freq_band = (47.5, 51.5)
volt_nominal = 230
volt_band_wide = (195.5, 253.0)
volt_band_narrow = (207.0, 253.0)


def expand(runs):
    """Turn runs of (start, end, values) into flat x/y lists."""
    xs, ys = [], []
    for t0, t1, vals in runs:
        n = len(vals)
        for i, v in enumerate(vals):
            xs.append(t0 if n == 1 else t0 + (t1 - t0) * i / (n - 1))
            ys.append(v)
    return xs, ys


RED = "rgba(218,42,18,0.6)"
BLUE = "rgba(5,113,176,0.6)"
FONT = "Liberation Serif"

# Page geometry: plot area spans px 128..1354 horizontally and 9..1007 vertically
FIG_W, FIG_H = 1357, 1080
M_L, M_R, M_T, M_B = 128, 3, 9, 73
PLOT_W = FIG_W - M_L - M_R
PLOT_H = FIG_H - M_T - M_B


def px_x(px):
    return (px - M_L) / PLOT_W


def px_y(py):
    return (FIG_H - M_B - py) / PLOT_H


fig = go.Figure()

panels = [
    (power_without, power_with, "x", "y", 1.8),
    (freq_without, freq_with, "x2", "y2", 1.0),
    (volt_without, volt_with, "x3", "y3", 1.8),
]
for runs_a, runs_b, xa, ya, lw in panels:
    for runs, name, color in ((runs_a, series_names[0], RED), (runs_b, series_names[1], BLUE)):
        x, y = expand(runs)
        fig.add_trace(go.Scatter(
            x=x, y=y, mode="lines", name=name, xaxis=xa, yaxis=ya, showlegend=False,
            line=dict(color=color, width=lw),
        ))

# Reference bands and nominal lines
fig.add_shape(type="rect", xref="x2 domain", yref="y2", x0=0, x1=1, y0=freq_band[0], y1=freq_band[1],
              fillcolor="#f2f2f2", line_width=0, layer="below")
fig.add_shape(type="line", xref="x2 domain", yref="y2", x0=0, x1=1, y0=freq_nominal, y1=freq_nominal,
              line=dict(color="black", width=2), layer="above")
fig.add_shape(type="rect", xref="x3 domain", yref="y3", x0=0, x1=1, y0=volt_band_wide[0], y1=volt_band_narrow[0],
              fillcolor="#e6e6e6", line_width=0, layer="below")
fig.add_shape(type="rect", xref="x3 domain", yref="y3", x0=0, x1=1, y0=volt_band_narrow[0], y1=volt_band_narrow[1],
              fillcolor="#d9d9d9", line_width=0, layer="below")
fig.add_shape(type="line", xref="x3 domain", yref="y3", x0=0, x1=1, y0=volt_nominal, y1=volt_nominal,
              line=dict(color="black", width=2), layer="above")

# Legend boxes (one per panel): top edge in px and sample line width
legend_boxes = [(35, 1.8), (392, 1.0), (908, 1.8)]
for top, lw in legend_boxes:
    fig.add_shape(type="rect", xref="paper", yref="paper",
                  x0=px_x(148), x1=px_x(404), y0=px_y(top + 72), y1=px_y(top),
                  fillcolor="rgba(255,255,255,0.85)", line=dict(color="#cccccc", width=1), layer="above")
    for k, (name, color) in enumerate(((series_names[0], RED), (series_names[1], BLUE))):
        row_y = top + 20 + 31 * k
        fig.add_shape(type="line", xref="paper", yref="paper",
                      x0=px_x(157), x1=px_x(202), y0=px_y(row_y), y1=px_y(row_y),
                      line=dict(color=color, width=lw), layer="above")
        fig.add_annotation(xref="paper", yref="paper", x=px_x(208), y=px_y(row_y),
                           xanchor="left", yanchor="middle", text=name, showarrow=False,
                           font=dict(size=25, family=FONT, color="#111111"))

GRID = "#dcdcdc"
TICKC = "#555555"

xaxis_common = dict(
    range=[0, 24], tickvals=hour_ticks, ticks="outside", ticklen=11, tickwidth=1.2, tickcolor=TICKC,
    showgrid=True, gridcolor=GRID, gridwidth=1.2, zeroline=False, showline=False,
    tickfont=dict(size=22), ticklabelstandoff=-3,
    title=dict(text="Hour of day", font=dict(size=24), standoff=11),
)
yaxis_common = dict(
    ticks="outside", ticklen=11, tickwidth=1.2, tickcolor=TICKC,
    showgrid=True, gridcolor=GRID, gridwidth=1.2, zeroline=False, showline=False,
    tickfont=dict(size=22), ticklabelstandoff=3,
)

domains = [[0.7425, 1.0], [0.3707, 0.6283], [0.0, 0.2575]]

fig.update_layout(
    width=FIG_W, height=FIG_H,
    margin=dict(l=M_L, r=M_R, t=M_T, b=M_B),
    paper_bgcolor="white", plot_bgcolor="white",
    font=dict(family=FONT, color="#111111"),
    xaxis=dict(**xaxis_common, anchor="y"),
    xaxis2=dict(**xaxis_common, anchor="y2"),
    xaxis3=dict(**xaxis_common, anchor="y3"),
    yaxis=dict(**yaxis_common, domain=domains[0], anchor="x", range=[0, 27940],
               tickvals=power_ticks, ticktext=power_tick_labels,
               title=dict(text="Active power [W]", font=dict(size=24), standoff=14)),
    yaxis2=dict(**yaxis_common, domain=domains[1], anchor="x2", range=[45.94, 71.84],
                tickvals=freq_ticks,
                title=dict(text="Frequency [Hz]", font=dict(size=24), standoff=14)),
    yaxis3=dict(**yaxis_common, domain=domains[2], anchor="x3", range=[40.4, 279.5],
                tickvals=volt_ticks,
                title=dict(text="Phase voltage [V]", font=dict(size=24), standoff=14)),
    showlegend=False,
)

fig.write_html("out.html")
